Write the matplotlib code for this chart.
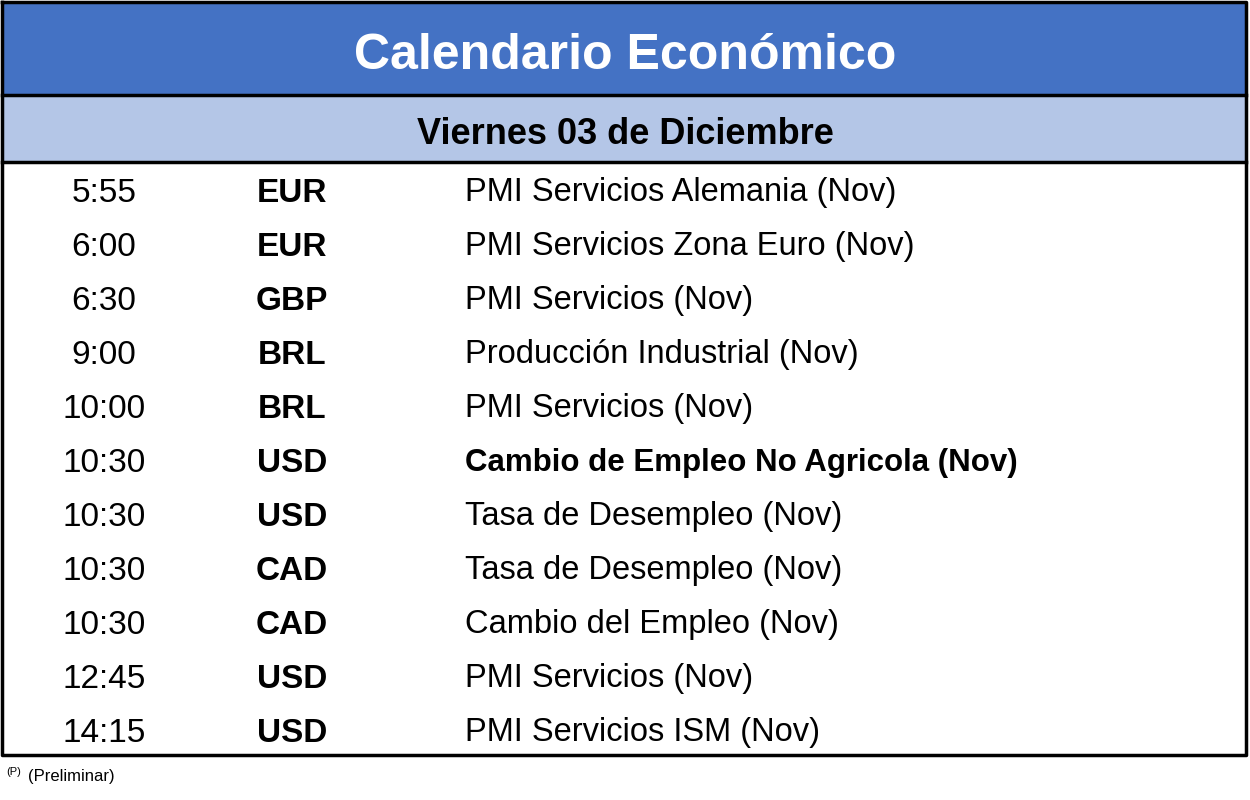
import matplotlib.pyplot as plt
from matplotlib.patches import Rectangle

title = "Calendario Económico"
subtitle = "Viernes 03 de Diciembre"
times = ["5:55", "6:00", "6:30", "9:00", "10:00", "10:30", "10:30", "10:30", "10:30", "12:45", "14:15"]
currencies = ["EUR", "EUR", "GBP", "BRL", "BRL", "USD", "USD", "CAD", "CAD", "USD", "USD"]
events = ["PMI Servicios Alemania (Nov)", "PMI Servicios Zona Euro (Nov)", "PMI Servicios (Nov)",
          "Producción Industrial (Nov)", "PMI Servicios (Nov)", "Cambio de Empleo No Agricola (Nov)",
          "Tasa de Desempleo (Nov)", "Tasa de Desempleo (Nov)", "Cambio del Empleo (Nov)",
          "PMI Servicios (Nov)", "PMI Servicios ISM (Nov)"]
bold_rows = [5]

font = ["Liberation Sans Narrow", "Liberation Sans", "DejaVu Sans"]

fig = plt.figure(figsize=(12.5, 8), dpi=100)
ax = fig.add_axes([0, 0, 1, 1])
ax.set_xlim(0, 1250)
ax.set_ylim(800, 0)
ax.axis("off")

# bandas de cabecera
ax.add_patch(Rectangle((2, 2), 1244, 93, facecolor="#4472C4", edgecolor="none"))
ax.add_patch(Rectangle((2, 95), 1244, 67, facecolor="#B4C6E7", edgecolor="none"))
ax.text(625, 56, title, ha="center", va="center", fontsize=36, color="white",
        fontweight="bold", family=font)
ax.text(625, 134, subtitle, ha="center", va="center", fontsize=26, color="black",
        fontweight="bold", family=font)

row_h = 54
y0 = 193
for i, (t, c, e) in enumerate(zip(times, currencies, events)):
    y = y0 + i * row_h
    ax.text(104, y, t, ha="center", va="center", fontsize=24, family=font)
    ax.text(292, y, c, ha="center", va="center", fontsize=24, fontweight="bold", family=font)
    ax.text(465, y, e, ha="left", va="center", fontsize=23.5 if i not in bold_rows else 22.5,
            family=font, fontweight="bold" if i in bold_rows else "normal")

# bordes
ax.plot([2, 1246, 1246, 2, 2], [2, 2, 755, 755, 2], color="black", lw=2.5)
ax.plot([2, 1246], [95, 95], color="black", lw=2.5)
ax.plot([2, 1246], [162, 162], color="black", lw=2.5)

ax.text(6, 772, "(P)", ha="left", va="center", fontsize=8, family=font)
ax.text(28, 776, "(Preliminar)", ha="left", va="center", fontsize=12, family=font)

fig.savefig("out.png", dpi=100)
